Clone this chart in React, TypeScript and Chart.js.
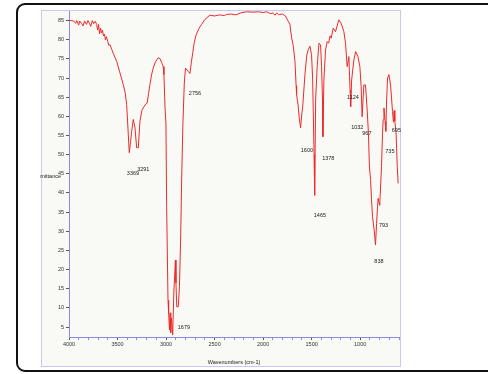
import React, { useEffect, useRef } from "react";
import { Chart, registerables } from "chart.js";
Chart.register(...registerables);

const wavenumbers = [
  4000, 3970, 3950, 3930, 3920, 3900, 3890, 3870, 3855, 3840, 3820, 3805, 3790, 3775, 3760, 3745, 3730, 3715,
  3705, 3695, 3685, 3675, 3665, 3655, 3645, 3635, 3625, 3615, 3600, 3590, 3578, 3560, 3540, 3509, 3480, 3441,
  3420, 3406, 3395, 3389, 3379, 3365, 3354, 3338, 3320, 3303, 3286, 3269, 3250, 3235, 3210, 3194, 3180, 3166,
  3150, 3132, 3110, 3080, 3060, 3045, 3029, 3022, 3011, 3001, 2994, 2980, 2977, 2970, 2965, 2958, 2952, 2945,
  2932, 2920, 2910, 2904, 2898, 2890, 2874, 2862, 2850, 2838, 2826, 2812, 2800, 2785, 2770, 2754, 2740, 2725,
  2710, 2690, 2660, 2634, 2600, 2548, 2500, 2450, 2400, 2376, 2330, 2280, 2230, 2170, 2100, 2050, 2000, 1964,
  1920, 1900, 1878, 1860, 1840, 1827, 1800, 1770, 1741, 1724, 1706, 1690, 1672, 1660, 1655, 1640, 1628, 1614,
  1600, 1593, 1569, 1550, 1535, 1518, 1501, 1490, 1484, 1475, 1469, 1459, 1443, 1425, 1408, 1398, 1388, 1384,
  1374, 1357, 1340, 1325, 1310, 1299, 1278, 1254, 1220, 1196, 1168, 1151, 1134, 1116, 1110, 1104, 1098, 1088,
  1065, 1047, 1023, 1003, 990, 980, 962, 945, 928, 915, 905, 893, 883, 873, 856, 842, 831, 821, 815, 800, 797,
  780, 770, 763, 755, 743, 736, 728, 718, 704, 687, 677, 667, 657, 650, 643, 630, 618, 609,
];
const transmittance = [
  85.0, 85.0, 84.8, 84.3, 85.0, 83.8, 84.9, 84.2, 83.6, 84.9, 84.0, 85.0, 84.3, 83.5, 85.0, 84.2, 84.8, 84.0,
  82.5, 84.0, 81.5, 83.0, 81.8, 82.5, 81.0, 81.5, 80.0, 80.8, 79.5, 78.5, 78.7, 77.5, 76.2, 74.4, 71.8, 68.3,
  66.0, 63.1, 58.0, 55.2, 50.5, 53.5, 56.1, 59.2, 57.0, 51.8, 51.8, 58.7, 61.5, 62.2, 63.2, 63.5, 66.0, 68.3,
  70.8, 72.6, 74.2, 75.3, 75.0, 74.0, 73.0, 70.9, 62.5, 58.0, 36.4, 12.0, 10.3, 8.7, 4.2, 8.7, 3.5, 7.4,
  2.9, 13.9, 19.1, 22.5, 16.5, 10.3, 10.3, 15.5, 27.7, 45.2, 58.3, 68.7, 72.6, 72.1, 71.7, 71.2, 74.0, 76.6,
  79.2, 81.3, 83.0, 84.0, 85.3, 86.4, 86.2, 86.5, 86.3, 86.6, 86.7, 86.5, 87.0, 87.3, 87.2, 87.3, 87.1, 87.3,
  86.8, 87.0, 86.4, 87.0, 86.5, 86.6, 86.7, 86.2, 84.8, 84.0, 80.5, 78.5, 74.4, 68.0, 65.7, 63.0, 59.6, 57.0,
  61.0, 62.2, 70.9, 76.0, 77.4, 78.3, 76.1, 70.0, 62.2, 50.0, 39.4, 64.3, 73.0, 79.1, 78.7, 73.0, 64.3, 54.7,
  69.5, 77.3, 79.5, 79.1, 81.0, 80.4, 83.0, 82.1, 85.2, 84.3, 82.1, 79.1, 73.0, 75.6, 70.4, 66.9, 62.5, 69.5,
  74.7, 76.9, 75.6, 73.0, 67.8, 59.9, 68.2, 68.2, 61.7, 55.6, 47.0, 43.5, 38.2, 33.8, 30.4, 26.4, 32.1, 36.4, 38.6, 36.8, 37.7,
  46.9, 55.6, 59.1, 62.2, 58.7, 56.1, 64.0, 70.0, 70.9, 68.2, 64.8, 61.3, 58.5, 61.5, 58.8, 55.7, 46.9, 42.5,
];

const peakLabels = ["3369", "3291", "1679", "2756", "1600", "1378", "1465", "1124", "1032", "967", "695", "735", "793", "838"];
const peakX = [3341, 3235, 2816, 2702, 1549, 1329, 1415, 1075, 1030, 931, 627, 694, 759, 807];
const peakY = [45.0, 46.1, 4.8, 66.0, 51.2, 49.1, 34.2, 64.8, 57.0, 55.6, 56.2, 50.8, 31.4, 22.0];

const yTicks = [5, 10, 15, 20, 25, 30, 35, 40, 45, 50, 55, 60, 65, 70, 75, 80, 85];
const xMajorTicks = [4000, 3500, 3000, 2500, 2000, 1500, 1000];
const xTitle = "Wavenumbers (cm-1)";
const yTitle = "Transmittance";

const FONT = '"Liberation Sans", Arial, sans-serif';

export default function App() {
  const ref = useRef<HTMLCanvasElement>(null);
  useEffect(() => {
    const xAllTicks: number[] = [];
    for (let v = 4000; v >= 600; v -= 100) xAllTicks.push(v);

    const textPlugin = {
      id: "textPlugin",
      afterDatasetsDraw(chart: any) {
        const { ctx, scales, chartArea } = chart;
        const x = scales.x;
        const y = scales.y;
        ctx.save();
        ctx.beginPath();
        ctx.rect(40, 11, 361, 355);
        ctx.clip();
        ctx.font = `5.5px ${FONT}`;
        ctx.fillStyle = "#222";
        ctx.textAlign = "center";
        ctx.textBaseline = "middle";
        peakLabels.forEach((t, i) => {
          ctx.fillText(t, x.getPixelForValue(peakX[i]), y.getPixelForValue(peakY[i]));
        });
        ctx.textAlign = "right";
        ctx.fillText(yTitle, 61, 176);
        ctx.textAlign = "center";
        ctx.fillText(xTitle, (chartArea.left + chartArea.right) / 2, 362);
        ctx.restore();
      },
    };

    const chart = new Chart(ref.current as HTMLCanvasElement, {
      type: "line",
      data: {
        datasets: [
          {
            data: wavenumbers.map((w, i) => ({ x: w, y: transmittance[i] })),
            borderColor: "#ec2a2a",
            borderWidth: 1,
            pointRadius: 0,
            tension: 0,
            fill: false,
          },
        ],
      },
      options: {
        animation: false,
        responsive: false,
        layout: { padding: { top: 11, right: 89, left: 0, bottom: 0 } },
        plugins: { legend: { display: false }, tooltip: { enabled: false } },
        scales: {
          x: {
            type: "linear",
            reverse: true,
            min: 600,
            max: 4000,
            afterFit(s: any) {
              s.height = 37;
            },
            afterBuildTicks(s: any) {
              s.ticks = xAllTicks.map((v) => ({ value: v }));
            },
            ticks: {
              autoSkip: false,
              maxRotation: 0,
              padding: 1,
              color: "#333",
              font: { size: 5.5, family: FONT },
              callback: (v: any) => (xMajorTicks.includes(Number(v)) ? String(v) : ""),
            },
            grid: {
              drawOnChartArea: false,
              tickLength: 3,
              color: (c: any) => (c.tick && xMajorTicks.includes(c.tick.value) ? "#555" : "#8c8cd8"),
            },
            border: { display: true, color: "#8a8ae0", width: 1, dash: [1, 1] },
          },
          y: {
            type: "linear",
            min: 2.4,
            max: 87.5,
            afterFit(s: any) {
              s.width = 69;
            },
            afterBuildTicks(s: any) {
              s.ticks = yTicks.map((v) => ({ value: v }));
            },
            ticks: {
              autoSkip: false,
              padding: 2,
              color: "#333",
              font: { size: 5.5, family: FONT },
            },
            grid: { drawOnChartArea: false, tickLength: 3, color: "#555" },
            border: { display: true, color: "#8a8ae0", width: 1, dash: [1, 1] },
          },
        },
      },
      plugins: [textPlugin],
    } as any);
    return () => chart.destroy();
  }, []);

  return (
    <div style={{ position: "fixed", left: 0, top: 0, width: 488, height: 374, background: "#fff", overflow: "hidden" }}>
      <div
        style={{
          position: "absolute",
          left: 16,
          top: 3,
          width: 500,
          height: 369,
          border: "2px solid #111",
          borderRadius: 9,
          boxSizing: "border-box",
        }}
      />
      <div
        style={{
          position: "absolute",
          left: 41,
          top: 10,
          width: 360,
          height: 357,
          border: "1px solid #c8c8f0",
          background: "#f9f9f5",
          boxSizing: "border-box",
        }}
      />
      <canvas ref={ref} width={488} height={374} style={{ position: "absolute", left: 0, top: 0 }} />
    </div>
  );
}
